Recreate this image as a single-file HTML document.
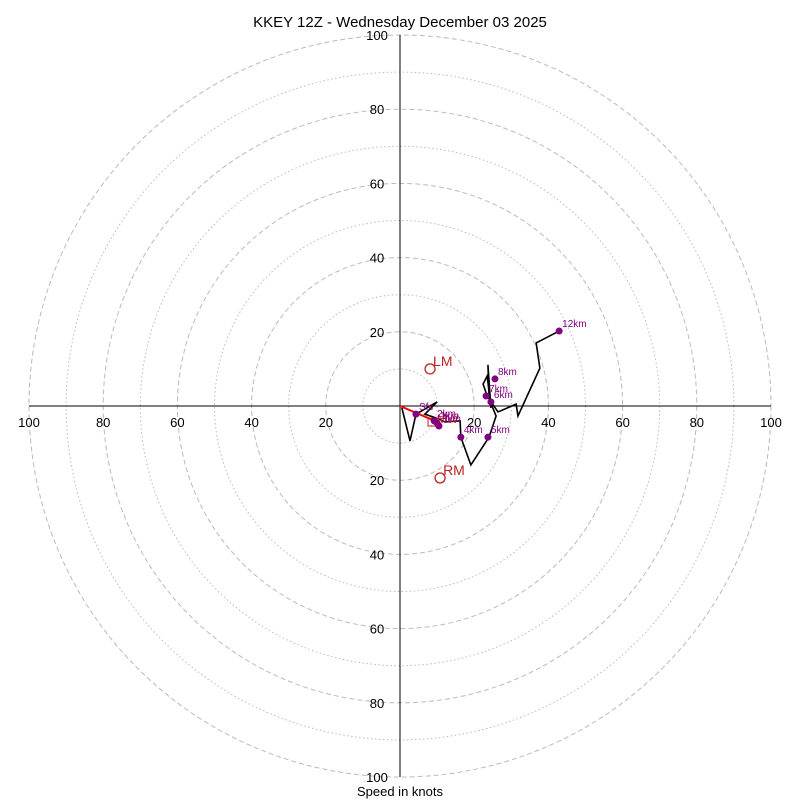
<!DOCTYPE html>
<html><head><meta charset="utf-8"><style>
body{margin:0;background:#fff}
svg text{font-family:"Liberation Sans","DejaVu Sans",sans-serif}
</style></head><body>
<svg id="c" width="800" height="800" viewBox="0 0 800 800">
<rect width="800" height="800" fill="#fff"/>
<text x="400" y="27" text-anchor="middle" font-size="15">KKEY 12Z - Wednesday December 03 2025</text>
<text x="400" y="796" text-anchor="middle" font-size="13">Speed in knots</text>
<g id="grid"></g><g id="marks"></g>
</svg>
<script>
const ringValues=[10,20,30,40,50,60,70,80,90,100];
const tickLabels=[20,40,60,80,100];
const pathU=[0.5,2.7,4.3,10.0,6.7,10.5,12.1,16.2,16.4,19.1,24.0,25.9,24.8,24.0,23.7,24.5,23.5,22.4,23.5,26.4,31.3,31.8,37.7,36.7,42.9];
const pathV=[-0.5,-9.4,-2.2,1.1,-2.2,-3.5,-4.3,-4.0,-8.4,-15.9,-8.4,-2.7,0,2.7,11.1,-0.5,8.1,5.9,2.7,-1.6,0.5,-2.7,10.2,17.0,20.2];
const markerLabels=["Sfc","1km","2km","3km","4km","5km","6km","7km","8km","12km"];
const markerU=[4.3,10.0,9.2,10.5,16.4,23.7,24.5,23.2,25.6,42.9];
const markerV=[-2.2,-4.6,-4.0,-5.4,-8.4,-8.4,1.1,2.7,7.3,20.2];
const stormLabels=["LM","RM"];
const stormU=[8.1,10.8];
const stormV=[10.0,-19.4];
const meanWindU=[0,8.9];
const meanWindV=[0,-3.8];
const NS="http://www.w3.org/2000/svg";
const cx=400,cy=406,k=3.71;
const X=u=>cx+u*k, Y=v=>cy-v*k;
function mk(t,p,a){const e=document.createElementNS(NS,t);for(const q in a)e.setAttribute(q,a[q]);p.appendChild(e);return e;}
const g=document.getElementById('grid'),m=document.getElementById('marks');
ringValues.forEach(r=>{
 const c=mk('circle',g,{cx:cx,cy:cy,r:r*k,fill:'none',stroke:'#bbb','stroke-width':1,'stroke-dasharray':r%20==0?'5,3':'1.5,2.5'});
 
 
});
let ax=mk('line',g,{x1:X(-100),y1:cy,x2:X(100),y2:cy,stroke:'#000'});


ax=mk('line',g,{x1:cx,y1:Y(100),x2:cx,y2:Y(-100),stroke:'#000'});


tickLabels.forEach(t=>{
 [t,-t].forEach(s=>{
  let e=mk('text',g,{x:X(s),y:cy+21,'text-anchor':'middle','font-size':13});e.textContent=t;
  
  
  e=mk('text',g,{x:cx-23,y:Y(s)+5,'text-anchor':'middle','font-size':13});e.textContent=t;
  
  
 });
});
const pl=mk('polyline',m,{points:pathU.map((u,i)=>X(u)+','+Y(pathV[i])).join(' '),fill:'none',stroke:'#000','stroke-width':1.6});


const mw=mk('line',m,{x1:X(meanWindU[0]),y1:Y(meanWindV[0]),x2:X(meanWindU[1]),y2:Y(meanWindV[1]),stroke:'red','stroke-width':2});


const bx=mk('rect',m,{x:X(meanWindU[1])-5,y:Y(meanWindV[1])-2,width:10,height:8,fill:'none',stroke:'#c22'});


const mwt=mk('text',m,{x:X(meanWindU[1])+4,y:Y(meanWindV[1])+3,'font-size':12,fill:'#c22'});mwt.textContent='MW';


markerLabels.forEach((l,i)=>{
 const c=mk('circle',m,{cx:X(markerU[i]),cy:Y(markerV[i]),r:3.5,fill:'purple'});
 
 
 const t=mk('text',m,{x:X(markerU[i])+3,y:Y(markerV[i])-4,'font-size':10,fill:'purple'});t.textContent=l;
 
 
});
stormLabels.forEach((l,i)=>{
 const c=mk('circle',m,{cx:X(stormU[i]),cy:Y(stormV[i]),r:5,fill:'none',stroke:'#b22','stroke-width':1.3});
 
 
 const t=mk('text',m,{x:X(stormU[i])+3,y:Y(stormV[i])-3,'font-size':14,fill:'#b22'});t.textContent=l;
 
 
});
</script>
</body></html>
